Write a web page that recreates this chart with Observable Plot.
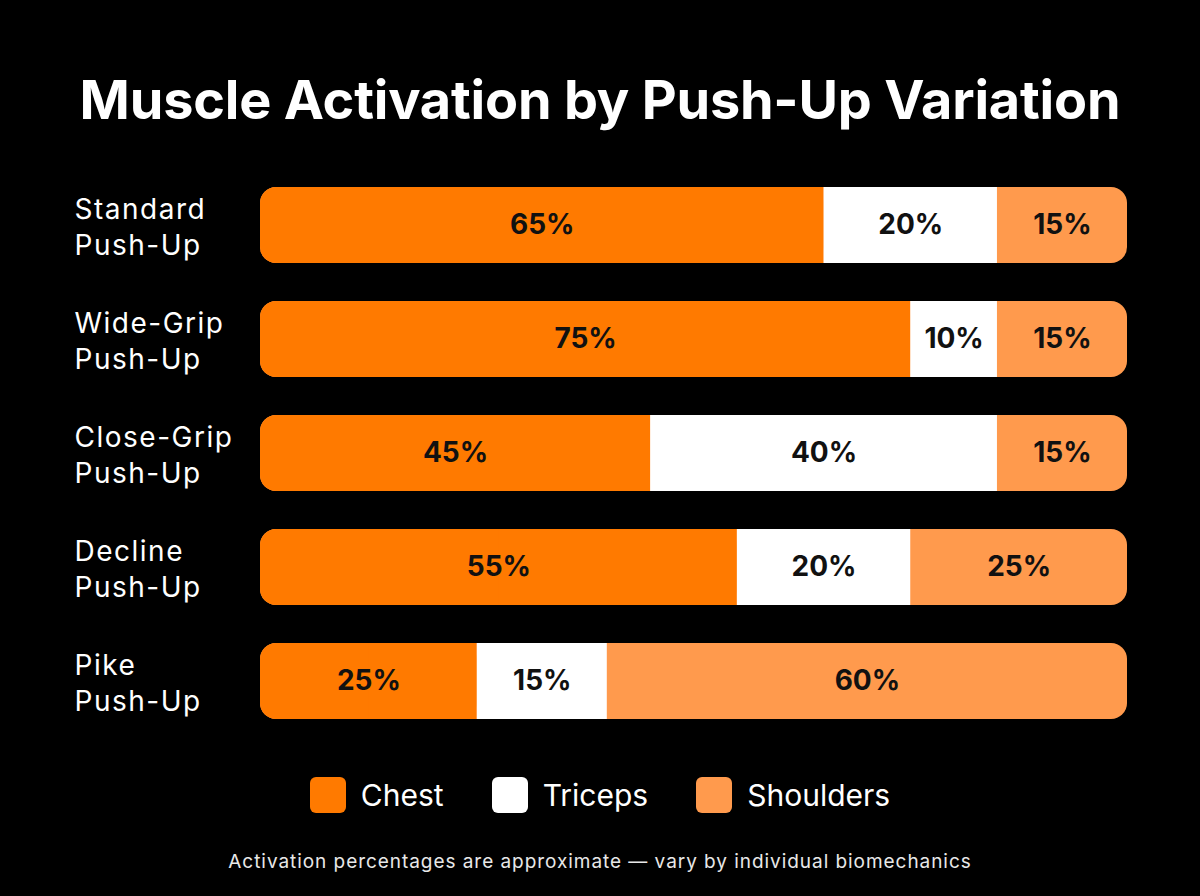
<!DOCTYPE html>
<html><head><meta charset="utf-8">
<script src="https://cdn.jsdelivr.net/npm/d3@7"></script>
<script src="https://cdn.jsdelivr.net/npm/@observablehq/plot@0.6"></script>
<style>
body{margin:0;background:#000;width:1200px;height:896px;overflow:hidden;font-family:Inter,sans-serif;color:#fff;position:relative}
#title{position:absolute;top:68px;left:0;width:1200px;text-align:center;font-size:54px;font-weight:700;line-height:64px;letter-spacing:-0.2px}
#chart{position:absolute;top:168px;left:0}
#chart svg .rowlab{letter-spacing:1.5px}
#legend{position:absolute;top:777px;left:0;width:1200px;height:36px;display:flex;justify-content:center;align-items:center;gap:48px;font-size:30px}
#legend .item{display:flex;align-items:center;gap:15px}
#legend .sw{width:36px;height:36px;border-radius:6px}
#caption{position:absolute;top:850px;left:0;width:1200px;text-align:center;font-size:19px;line-height:24px;color:#e8e8e8;letter-spacing:0.95px}
</style></head>
<body>
<div id="title">Muscle Activation by Push-Up Variation</div>
<div id="chart"></div>
<div id="legend"></div>
<div id="caption">Activation percentages are approximate — vary by individual biomechanics</div>
<script>
const variations = ["Standard\nPush-Up", "Wide-Grip\nPush-Up", "Close-Grip\nPush-Up", "Decline\nPush-Up", "Pike\nPush-Up"];
const chest = [65, 75, 45, 55, 25];
const triceps = [20, 10, 40, 20, 15];
const shoulders = [15, 15, 15, 25, 60];
const muscles = ["Chest", "Triceps", "Shoulders"];
const colors = ["#ff7a00", "#ffffff", "#ff9a4d"];

const rows = variations.map((v, i) => ({v, chest: chest[i], triceps: triceps[i], shoulders: shoulders[i], total: chest[i] + triceps[i] + shoulders[i]}));
const segs = [];
rows.forEach(r => {
  let acc = 0;
  [r.chest, r.triceps, r.shoulders].forEach((val, j) => {
    segs.push({v: r.v, muscle: muscles[j], value: val, x1: acc, x2: acc + val});
    acc += val;
  });
});

const chart = Plot.plot({
  width: 1200,
  height: 570,
  marginLeft: 260,
  marginRight: 73,
  marginTop: 0,
  marginBottom: 0,
  style: {background: "transparent", fontFamily: "Inter, sans-serif"},
  x: {domain: [0, 100], axis: null},
  y: {domain: variations, paddingInner: 1/3, paddingOuter: 1/6, axis: null},
  marks: [
    Plot.barX(rows, {y: "v", x1: 0, x2: "total", fill: colors[2], rx: 16}),
    Plot.barX(rows, {y: "v", x1: 0, x2: "chest", fill: colors[0], rx: 16}),
    Plot.barX(rows, {y: "v", x1: d => d.chest / 2, x2: "chest", fill: colors[0]}),
    Plot.barX(rows, {y: "v", x1: "chest", x2: d => d.chest + d.triceps, fill: colors[1]}),
    Plot.text(segs, {y: "v", x: d => (d.x1 + d.x2) / 2, text: d => d.value + "%", fill: "#111", fontSize: 28, fontWeight: 700}),
    Plot.text(variations, {y: d => d, text: d => d, frameAnchor: "left", dx: -186, textAnchor: "start", fill: "#fff", fontSize: 28, lineHeight: 1.29, className: "rowlab"})
  ]
});
document.getElementById("chart").appendChild(chart);

const legend = document.getElementById("legend");
muscles.forEach((m, j) => {
  const it = document.createElement("div");
  it.className = "item";
  it.innerHTML = `<div class="sw" style="background:${colors[j]}"></div><span>${m}</span>`;
  legend.appendChild(it);
});
</script>
</body></html>
